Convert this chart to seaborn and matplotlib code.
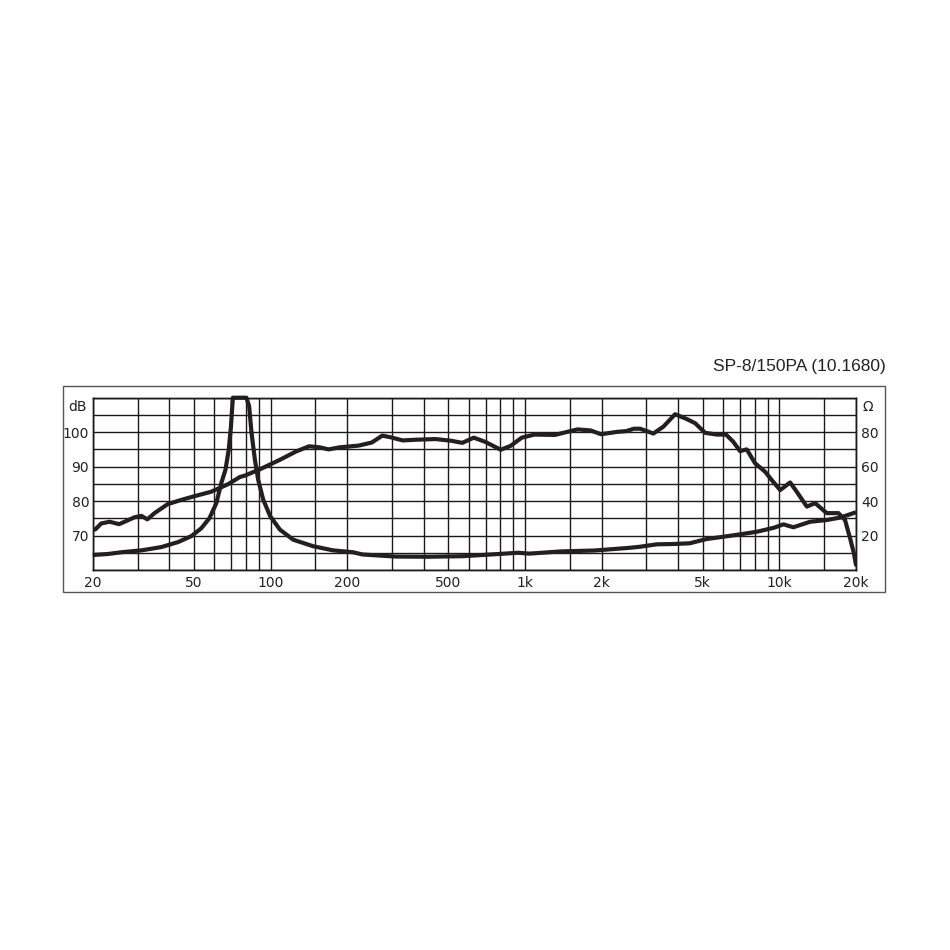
import matplotlib
matplotlib.use("Agg")
import matplotlib.pyplot as plt
from matplotlib.patches import Rectangle
from matplotlib.ticker import NullLocator
import seaborn as sns

# --- Frequenzgang (dB, linke Achse) ---
spl_freq = [20, 20.5, 21.6, 23.3, 25.4, 26.7, 29.2, 31.1, 32.8, 35.0, 39.4, 44.4,
            50.7, 58.4, 64, 68.1, 75.8, 79.3, 91.3, 109, 126, 141.7, 156, 169,
            187, 222, 250, 275, 297, 331, 372, 445, 513, 567, 629, 697, 803,
            877, 971, 1090, 1310, 1470, 1610, 1810, 1990, 2310, 2500, 2680,
            2834, 3196, 3500, 3890, 4325, 4664, 5107, 5676, 6170, 6590, 7000,
            7440, 8020, 8790, 9330, 10070, 11020, 11700, 12820, 13820, 15350,
            17060, 18110, 18960, 19600, 20000]
spl_db = [71.6, 71.8, 73.5, 74.0, 73.3, 74.0, 75.3, 75.7, 74.7, 76.5, 79.1, 80.3,
          81.5, 82.7, 84.0, 84.9, 87.0, 87.4, 89.3, 92.0, 94.4, 95.9, 95.6, 95.0,
          95.6, 96.1, 97.0, 99.0, 98.5, 97.6, 97.8, 98.0, 97.5, 96.9, 98.4, 97.2, 94.9,
          96.0, 98.4, 99.3, 99.2, 100.1, 100.8, 100.5, 99.4, 100.1, 100.3, 101.0,
          101.0, 99.6, 101.6, 105.2, 103.8, 102.6, 99.8, 99.3, 99.3, 97.2, 94.5,
          95.0, 91.0, 88.5, 86.1, 83.2, 85.4, 82.7, 78.4, 79.4, 76.5,
          76.5, 74.5, 69.2, 65.0, 61.5]

# --- Impedanz (Ohm, rechte Achse) ---
imp_freq = [20, 23, 25.9, 31.1, 37.2, 43.3, 48.9, 53.4, 57.5, 61.2, 64, 66.5,
            68.5, 69.9, 71.1, 80.4, 82.4, 84.2, 86.8, 89.4, 93.6, 99.7, 108.9,
            122.7, 147, 176, 211, 230, 310, 420, 567, 790, 940, 1040, 1390, 1870,
            2540, 2834, 3300, 3840, 4440, 5184, 6026, 7000, 8150, 9500, 10370,
            11350, 13200, 15350, 17300, 20000]
imp_ohm = [8.7, 9.3, 10.3, 11.4, 13.3, 16.2, 19.7, 24.2, 30.0, 38.7, 50.3, 58.2,
           69.8, 83.4, 100, 100, 95, 79.5, 64, 52.4, 40.8, 31.2, 23.4,
           17.6, 13.8, 11.4, 10.3, 9.0, 7.8, 7.7, 8.0, 9.3, 10.0, 9.5, 10.8, 11.3,
           12.8, 13.5, 14.9, 15.1, 15.5, 18.0, 19.3, 20.7, 22.2, 24.5, 26.5,
           24.8, 28.0, 29.0, 30.4, 33.5]

# --- Raster / Beschriftung ---
x_grid = [20, 30, 40, 50, 60, 70, 80, 90, 100, 150, 200, 300, 400, 500, 600,
          700, 800, 900, 1000, 1500, 2000, 3000, 4000, 5000, 6000, 7000, 8000,
          9000, 10000, 15000, 20000]
x_labels = {20: "20", 50: "50", 100: "100", 200: "200", 500: "500", 1000: "1k",
            2000: "2k", 5000: "5k", 10000: "10k", 20000: "20k"}
db_grid = [60, 65, 70, 75, 80, 85, 90, 95, 100, 105, 110]
db_labels = {70: "70", 80: "80", 90: "90", 100: "100"}
ohm_grid = [0, 10, 20, 30, 40, 50, 60, 70, 80, 90, 100]
ohm_labels = {20: "20", 40: "40", 60: "60", 80: "80"}
title = "SP-8/150PA (10.1680)"

sns.set_style("white")
plt.rcParams["font.family"] = ["DejaVu Sans"]

INK = "#231f20"
GRID = "#1a1a1a"

fig = plt.figure(figsize=(9.5, 9.5), dpi=100)
ax = fig.add_axes([0.09758, 0.4, 0.80347, 0.18137])
ax2 = ax.twinx()

ax.set_xscale("log")
ax.set_xlim(20, 20000)
ax.set_ylim(60, 110)
ax2.set_ylim(0, 100)

ax.set_xticks(x_grid)
ax.set_xticklabels([x_labels.get(v, "") for v in x_grid])
ax.xaxis.set_minor_locator(NullLocator())
ax.set_yticks(db_grid)
ax.set_yticklabels([db_labels.get(v, "") for v in db_grid])
ax2.set_yticks(ohm_grid)
ax2.set_yticklabels([ohm_labels.get(v, "") for v in ohm_grid])
ax2.yaxis.set_minor_locator(NullLocator())

ax.grid(True, which="major", color=GRID, lw=1.0)
ax2.grid(False)
ax.tick_params(axis="x", length=0, pad=4.5, labelsize=10, colors="#222")
ax.tick_params(axis="y", length=0, pad=2.5, labelsize=10, colors="#222")
ax2.tick_params(axis="y", length=0, pad=3.6, labelsize=10, colors="#222")
for a in (ax, ax2):
    for s in a.spines.values():
        s.set_color(GRID)
        s.set_linewidth(1.0)

sns.lineplot(x=spl_freq, y=spl_db, ax=ax, color=INK, lw=3.0, sort=False)
sns.lineplot(x=imp_freq, y=imp_ohm, ax=ax2, color=INK, lw=3.0, sort=False)
for ln in ax2.lines:
    ln.set_clip_on(False)
    ln.set_solid_capstyle("butt")

ax.set_xlabel("")
ax.set_ylabel("")
ax2.set_ylabel("")

# Einheiten oben an den Achsen
ax.annotate("dB", xy=(0, 1), xycoords="axes fraction", xytext=(-4, -2),
            textcoords="offset points", ha="right", va="top", fontsize=10, color="#222")
ax2.annotate("Ω", xy=(1, 1), xycoords="axes fraction", xytext=(5, -2),
             textcoords="offset points", ha="left", va="top", fontsize=10, color="#222")

# Rahmen und Titel
fig.patches.append(Rectangle((63 / 950, 1 - 591.7 / 950), (885 - 63) / 950,
                             (591.7 - 386) / 950, transform=fig.transFigure,
                             fill=False, ec="#555555", lw=1.0))
fig.text(886 / 950, 1 - 366 / 950, title, ha="right", va="center",
         fontsize=12.5, family="Liberation Sans", color="#222")

fig.savefig("out.png", dpi=100)
plt.close(fig)
